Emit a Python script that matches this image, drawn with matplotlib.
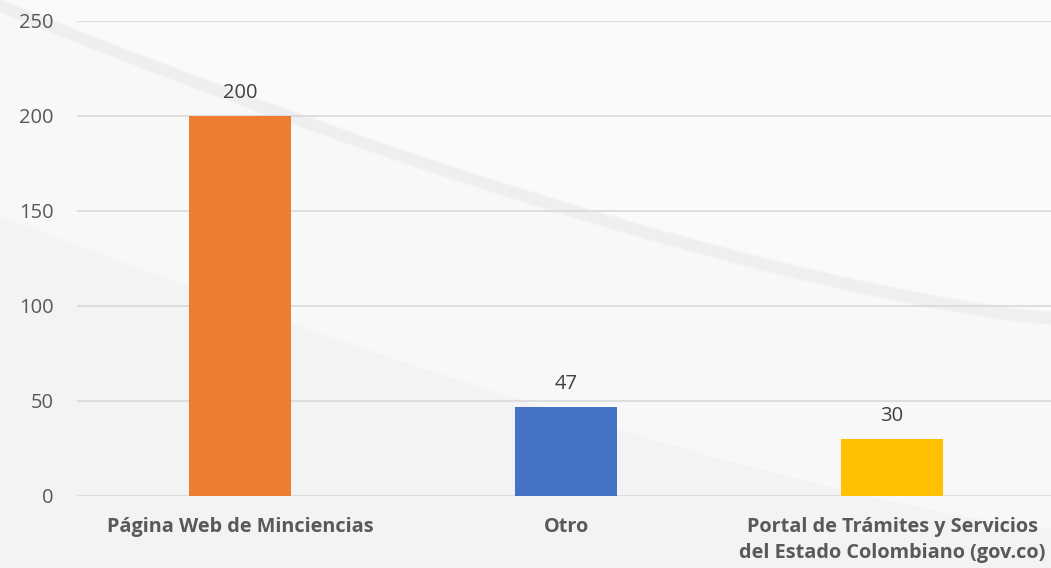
import numpy as np
from matplotlib import pyplot as plt

categories = ["Página Web de Minciencias", "Otro",
              "Portal de Trámites y Servicios\ndel Estado Colombiano (gov.co)"]
values = [200, 47, 30]
bar_colors = ["#ED7D31", "#4472C4", "#FFC000"]
y_ticks = [0, 50, 100, 150, 200, 250]

plt.rcParams['font.family'] = ['Open Sans', 'DejaVu Sans']

fig = plt.figure(figsize=(10.51, 5.68), dpi=100)
fig.patch.set_facecolor("#f3f3f5")

# background swooshes, kept faint
bg = fig.add_axes([0, 0, 1, 1], zorder=0)
bg.set_xlim(0, 1)
bg.set_ylim(0, 1)
bg.axis("off")
xs = np.linspace(0, 1, 200)
edge = 1.0 - 0.50 * (1 - (1 - xs) ** 1.4) - 0.05 * xs
bg.fill_between(xs, edge, 1.0, color="#fafafb", lw=0)
low = 0.62 - 0.55 * (1 - (1 - xs) ** 1.3)
bg.fill_between(xs, low, edge - 0.02, color="#f8f8f9", lw=0)
for k in range(6):
    bg.plot(xs, edge - 0.004 * k, color="#ebebee", lw=2, alpha=0.35)

ax = fig.add_axes([0.0733, 0.1268, 0.9306, 0.8363], zorder=1)
ax.patch.set_alpha(0)
x = np.arange(len(categories))
ax.bar(x, values, width=0.313, color=bar_colors, zorder=3)
for xi, v in zip(x, values):
    ax.annotate(str(v), (xi, v), xytext=(0, 13), textcoords="offset points",
                ha="center", va="baseline", fontsize=14.5, color="#404040")

ax.set_xlim(-0.5, 2.5)
ax.set_ylim(0, 250)
ax.set_yticks(y_ticks)
ax.set_yticklabels([str(t) for t in y_ticks], fontsize=14.5, color="#595959")
ax.set_xticks(x)
ax.set_xticklabels(categories, fontsize=14.3, fontweight="bold", color="#595959",
                   linespacing=1.4, va="top")
ax.tick_params(axis="both", length=0)
ax.tick_params(axis="y", pad=17)
ax.tick_params(axis="x", pad=15)
ax.grid(axis="y", color="#d9d9d9", lw=1.2, zorder=0)
for s in ax.spines.values():
    s.set_visible(False)

fig.savefig("out.png", dpi=100, facecolor=fig.get_facecolor())
